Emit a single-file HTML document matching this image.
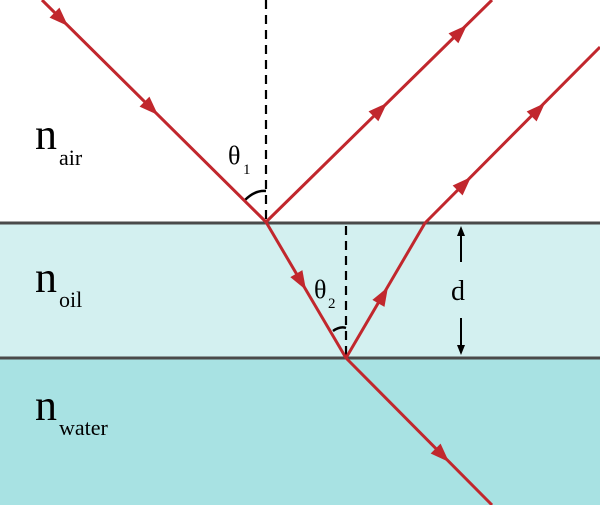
<!DOCTYPE html>
<html><head><style>html,body{margin:0;padding:0;background:#fff}svg{display:block}</style></head>
<body>
<svg width="600" height="505" viewBox="0 0 600 505" xmlns="http://www.w3.org/2000/svg">
<rect x="0" y="223" width="600" height="135" fill="#d3f0f0"/>
<rect x="0" y="358" width="600" height="147" fill="#a8e2e3"/>
<line x1="0" y1="223" x2="600" y2="223" stroke="#4a4a4a" stroke-width="3"/>
<line x1="0" y1="358" x2="600" y2="358" stroke="#4a4a4a" stroke-width="3"/>
<line x1="266" y1="0" x2="266" y2="222" stroke="#000" stroke-width="2.2" stroke-dasharray="9,6"/>
<line x1="346" y1="226" x2="346" y2="357" stroke="#000" stroke-width="2.2" stroke-dasharray="9,6"/>
<path d="M245,200 Q255,190 266,191" fill="none" stroke="#000" stroke-width="2.5"/>
<path d="M333,331 Q340,326 346,328" fill="none" stroke="#000" stroke-width="2.5"/>
<g stroke="#c1272d" stroke-width="3" fill="none">
<line x1="42" y1="0" x2="266" y2="222"/>
<line x1="266" y1="222" x2="492" y2="0"/>
<line x1="266" y1="222" x2="346" y2="358"/>
<line x1="346" y1="358" x2="425" y2="223"/>
<line x1="425" y1="223" x2="600" y2="47"/>
<line x1="346" y1="358" x2="492" y2="505"/>
</g>
<g fill="#c1272d">
<path d="M0,0 L-19,-7 L-19,7Z" transform="translate(68,26) rotate(44.7)"/>
<path d="M0,0 L-19,-7 L-19,7Z" transform="translate(158,115) rotate(44.7)"/>
<path d="M0,0 L-19,-7 L-19,7Z" transform="translate(467,25) rotate(-44.5)"/>
<path d="M0,0 L-19,-7 L-19,7Z" transform="translate(387,103) rotate(-44.5)"/>
<path d="M0,0 L-19,-7 L-19,7Z" transform="translate(306,290) rotate(59.5)"/>
<path d="M0,0 L-19,-7 L-19,7Z" transform="translate(388,287) rotate(-59.7)"/>
<path d="M0,0 L-19,-7 L-19,7Z" transform="translate(471,177) rotate(-45.2)"/>
<path d="M0,0 L-19,-7 L-19,7Z" transform="translate(545,103) rotate(-45.2)"/>
<path d="M0,0 L-19,-7 L-19,7Z" transform="translate(449,462) rotate(45.2)"/>
</g>
<g stroke="#000" stroke-width="2">
<line x1="461" y1="232" x2="461" y2="262"/>
<line x1="461" y1="318" x2="461" y2="348"/>
</g>
<path d="M461,226 L457,236 L465,236Z" fill="#000"/>
<path d="M461,355 L457,345 L465,345Z" fill="#000"/>
<g style="font-family:'Liberation Serif',serif" fill="#000">
<text x="35" y="149" font-size="44">n</text><text x="59" y="165" font-size="22">air</text>
<text x="35" y="292" font-size="44">n</text><text x="59" y="307" font-size="22">oil</text>
<text x="35" y="420" font-size="44">n</text><text x="59" y="435" font-size="22">water</text>
<text x="228" y="164" font-size="26">θ</text><text x="243" y="174" font-size="15">1</text>
<text x="314" y="298" font-size="26">θ</text><text x="328" y="308" font-size="15">2</text>
<text x="451" y="300" font-size="28">d</text>
</g>
</svg>
</body></html>
